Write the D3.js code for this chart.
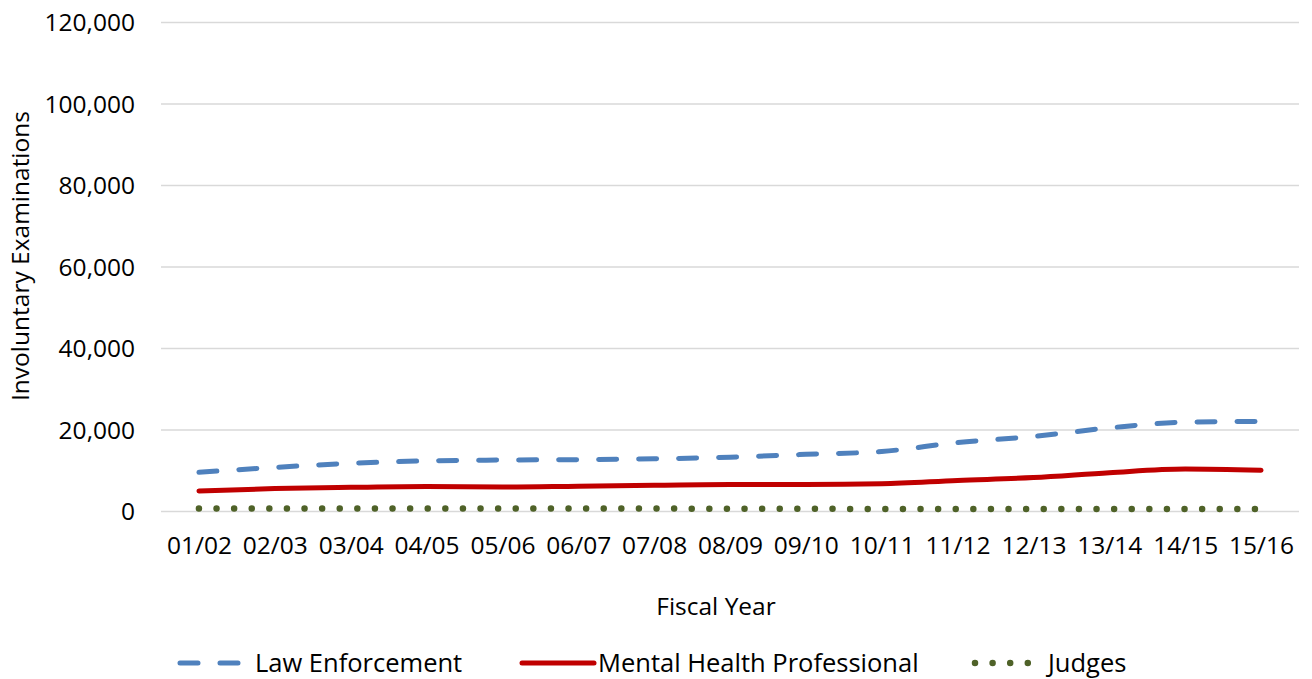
<!DOCTYPE html>
<html><head><meta charset="utf-8">
<script src="https://cdn.jsdelivr.net/npm/d3@7"></script>
<style>body{margin:0;background:#fff}svg{display:block}text{font-family:"Open Sans",sans-serif;fill:#000}</style>
</head><body><svg id="c" width="1312" height="679"></svg>
<script>
const categories = ["01/02","02/03","03/04","04/05","05/06","06/07","07/08","08/09","09/10","10/11","11/12","12/13","13/14","14/15","15/16"];
const lawEnforcement = [9500,10700,11700,12300,12500,12600,12800,13200,13900,14600,16800,18300,20400,21800,22000];
const mentalHealth = [4900,5500,5800,6000,5900,6100,6300,6500,6500,6700,7500,8200,9400,10300,10000];
const judges = [600,600,600,600,600,600,600,550,550,500,500,500,500,500,500];
const yTicks = [0,20000,40000,60000,80000,100000,120000];

const svg = d3.select("#c");
const L=161, R=1299, T=22, B=511;
const x = d3.scalePoint().domain(categories).range([L,R]).padding(0.5);
const y = d3.scaleLinear().domain([0,120000]).range([B,T]);
const fmt = d3.format(",");

const ya = svg.append("g").attr("transform",`translate(${L},0)`)
  .call(d3.axisLeft(y).tickValues(yTicks).tickSize(-(R-L)).tickFormat(fmt).tickPadding(26));
ya.select(".domain").remove();
ya.selectAll(".tick line").attr("stroke","#d9d9d9").attr("stroke-width",1.5);
ya.selectAll(".tick text").style("font-size","24.5px").attr("dy","0.35em");

const xa = svg.append("g").attr("transform",`translate(0,${B})`)
  .call(d3.axisBottom(x).tickSize(0).tickPadding(26));
xa.select(".domain").remove();
xa.selectAll(".tick text").style("font-size","24.5px");

svg.append("text").attr("transform","translate(20,256) rotate(-90)").attr("text-anchor","middle").attr("dy","0.35em").style("font-size","24.5px").text("Involuntary Examinations");
svg.append("text").attr("x",716).attr("y",606).attr("text-anchor","middle").attr("dy","0.35em").style("font-size","24.5px").text("Fiscal Year");

const series = [
  {name:"Law Enforcement", data:lawEnforcement, color:"#4f81bd", dash:"18,22", w:5},
  {name:"Mental Health Professional", data:mentalHealth, color:"#c00000", dash:null, w:5},
  {name:"Judges", data:judges, color:"#4f6228", dash:"0,17.6", w:6.5}
];
const line = d3.line().x((d,i)=>x(categories[i])).y(d=>y(d)).curve(d3.curveMonotoneX);
series.forEach(s=>{
  svg.append("path").datum(s.data).attr("d",line).attr("fill","none")
    .attr("stroke",s.color).attr("stroke-width",s.w).attr("stroke-linecap","round")
    .attr("stroke-linejoin","round").attr("stroke-dasharray",s.dash);
});

const legend = [
  {x1:180,x2:245,tx:255},
  {x1:522,x2:594,tx:598},
  {x1:975,x2:1030,tx:1048}
];
series.forEach((s,i)=>{
  const g = legend[i];
  svg.append("line").attr("x1",g.x1).attr("x2",g.x2).attr("y1",663).attr("y2",663)
    .attr("stroke",s.color).attr("stroke-width",s.w).attr("stroke-linecap","round")
    .attr("stroke-dasharray",s.dash);
  svg.append("text").attr("x",g.tx).attr("y",663).attr("dy","0.35em").style("font-size","25.5px").text(s.name);
});
</script></body></html>
